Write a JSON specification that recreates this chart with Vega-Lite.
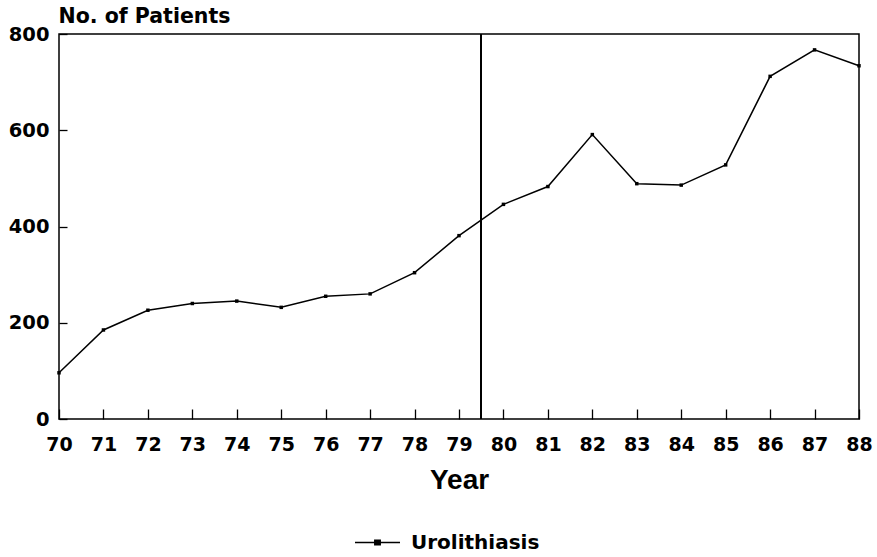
{
  "$schema": "https://vega.github.io/schema/vega-lite/v6.json",
  "width": 800,
  "height": 385,
  "autosize": {"type": "none"},
  "padding": {"left": 59, "top": 34, "right": 18, "bottom": 138},
  "background": "white",
  "config": {
    "view": {"stroke": "black", "strokeWidth": 1.5},
    "axis": {"grid": false, "domain": false, "tickColor": "black", "labelColor": "black", "titleColor": "black", "tickWidth": 1.3}
  },
  "data": {
    "values": [
      {"year": 70, "patients": 96},
      {"year": 71, "patients": 185},
      {"year": 72, "patients": 226},
      {"year": 73, "patients": 240},
      {"year": 74, "patients": 245},
      {"year": 75, "patients": 232},
      {"year": 76, "patients": 255},
      {"year": 77, "patients": 260},
      {"year": 78, "patients": 304},
      {"year": 79, "patients": 381},
      {"year": 80, "patients": 446},
      {"year": 81, "patients": 483},
      {"year": 82, "patients": 591},
      {"year": 83, "patients": 489},
      {"year": 84, "patients": 486},
      {"year": 85, "patients": 528},
      {"year": 86, "patients": 712},
      {"year": 87, "patients": 767},
      {"year": 88, "patients": 734}
    ]
  },
  "encoding": {
    "x": {
      "field": "year", "type": "quantitative",
      "scale": {"domain": [70, 88], "nice": false, "zero": false},
      "axis": {
        "values": [70,71,72,73,74,75,76,77,78,79,80,81,82,83,84,85,86,87,88],
        "format": "d", "offset": -10, "tickSize": 10, "labelPadding": 16,
        "labelFont": "DejaVu Sans", "labelFontWeight": "bold", "labelFontSize": 19,
        "labelOverlap": false, "labelFlush": false,
        "title": "Year", "titleFont": "Liberation Sans", "titleFontWeight": "bold", "titleFontSize": 28,
        "titleY": 79, "titleBaseline": "alphabetic"
      }
    },
    "y": {
      "field": "patients", "type": "quantitative",
      "scale": {"domain": [0, 800], "nice": false},
      "axis": {
        "values": [0, 200, 400, 600, 800], "offset": -8, "tickSize": 8, "labelPadding": 10,
        "labelFont": "DejaVu Sans", "labelFontWeight": "bold", "labelFontSize": 19.5,
        "title": "No. of Patients", "titleFont": "DejaVu Sans", "titleFontWeight": "bold", "titleFontSize": 20.5,
        "titleAngle": 0, "titleAlign": "left", "titleBaseline": "alphabetic", "titleX": -9, "titleY": -12
      }
    }
  },
  "layer": [
    {
      "mark": {"type": "rule", "color": "black", "strokeWidth": 1.5},
      "encoding": {"x": {"datum": 79.5}, "y": null}
    },
    {
      "mark": {"type": "line", "strokeWidth": 1.5},
      "encoding": {
        "color": {
          "datum": "Urolithiasis",
          "scale": {"range": ["black"]},
          "legend": {
            "title": null, "orient": "none", "legendX": 295, "legendY": 485,
            "symbolType": "M-1,0L1,0M-0.12,-0.1L0.12,-0.1L0.12,0.1L-0.12,0.1Z",
            "symbolSize": 2025, "symbolStrokeWidth": 1.5, "symbolStrokeColor": "black", "symbolFillColor": "black",
            "labelFont": "DejaVu Sans", "labelFontWeight": "bold", "labelFontSize": 20, "labelColor": "black", "labelOffset": 10
          }
        }
      }
    },
    {
      "mark": {"type": "point", "shape": "square", "filled": true, "size": 12, "color": "black", "opacity": 1}
    }
  ]
}
